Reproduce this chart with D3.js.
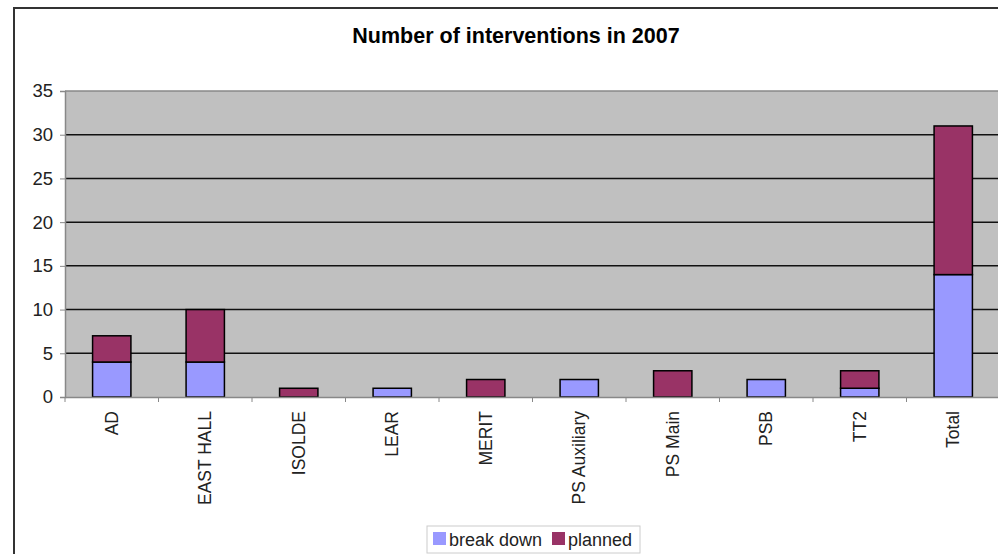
<!DOCTYPE html>
<html>
<head>
<meta charset="utf-8">
<script src="https://cdn.jsdelivr.net/npm/d3@7"></script>
<style>
  body { margin: 0; background: #fff; }
  svg { font-family: "Liberation Sans", Arial, sans-serif; display: block; }
</style>
</head>
<body>
<div id="chart"></div>
<script>
const categories = ["AD", "EAST HALL", "ISOLDE", "LEAR", "MERIT", "PS Auxiliary", "PS Main", "PSB", "TT2", "Total"];
const breakDown = [4, 4, 0, 1, 0, 2, 0, 2, 1, 14];
const planned = [3, 6, 1, 0, 2, 0, 3, 0, 2, 17];
const seriesNames = ["break down", "planned"];
const seriesColors = ["#9999ff", "#993366"];
const yTicks = [0, 5, 10, 15, 20, 25, 30, 35];

const w = 998;
const h = 554;
const margin = { top: 91, right: -2, bottom: 157, left: 65 };

const svg = d3.select("#chart")
  .append("svg")
  .attr("width", w)
  .attr("height", h);

// outer chart border (cut off at right and bottom)
svg.append("path")
  .attr("d", `M14,${h + 5}V8H${w + 5}`)
  .attr("fill", "none")
  .attr("stroke", "#333")
  .attr("stroke-width", 2);

svg.append("text")
  .attr("x", 516)
  .attr("y", 43)
  .attr("text-anchor", "middle")
  .attr("font-size", 21.5)
  .attr("font-weight", "bold")
  .text("Number of interventions in 2007");

const x = d3.scaleBand()
  .domain(categories)
  .range([margin.left, w - margin.right])
  .paddingInner(0.59)
  .paddingOuter(0.295);

const y = d3.scaleLinear()
  .domain([0, 35])
  .range([h - margin.bottom, margin.top]);

svg.append("rect")
  .attr("x", margin.left)
  .attr("y", margin.top)
  .attr("width", w - margin.right - margin.left)
  .attr("height", y(0) - margin.top)
  .attr("fill", "#c0c0c0");

// gridlines
svg.append("g")
  .selectAll("line")
  .data(yTicks.filter(d => d > 0 && d < 35))
  .join("line")
  .attr("x1", margin.left)
  .attr("x2", w)
  .attr("y1", d => y(d))
  .attr("y2", d => y(d))
  .attr("stroke", "#111")
  .attr("stroke-width", 1.5);

svg.append("line")
  .attr("x1", margin.left).attr("x2", w)
  .attr("y1", y(35)).attr("y2", y(35))
  .attr("stroke", "#888").attr("stroke-width", 1.5);

// y axis
const yAxis = svg.append("g")
  .attr("transform", `translate(${margin.left},0)`)
  .call(d3.axisLeft(y).tickValues(yTicks).tickSize(5).tickPadding(7));
yAxis.select(".domain").attr("stroke", "#888").attr("stroke-width", 1.5);
yAxis.selectAll(".tick line").attr("stroke", "#888");
yAxis.selectAll("text").attr("font-size", 18.5).attr("fill", "#222")
  .attr("font-family", "Liberation Sans, Arial, sans-serif");

// stacked bars
const rows = categories.map((c, i) => ({ cat: c, b: breakDown[i], p: planned[i] }));
const stack = d3.stack().keys(["b", "p"])(rows);

svg.append("g")
  .selectAll("g")
  .data(stack)
  .join("g")
  .attr("fill", (d, i) => seriesColors[i])
  .selectAll("rect")
  .data(d => d.filter(s => s[1] - s[0] > 0))
  .join("rect")
  .attr("x", d => x(d.data.cat))
  .attr("width", x.bandwidth())
  .attr("y", d => y(d[1]))
  .attr("height", d => y(d[0]) - y(d[1]))
  .attr("stroke", "#000")
  .attr("stroke-width", 1.5);

// x axis
const xAxis = svg.append("g")
  .attr("transform", `translate(0,${y(0)})`)
  .call(d3.axisBottom(x).tickSize(0).tickPadding(0));
xAxis.select(".domain").attr("stroke", "#888").attr("stroke-width", 1.5);
xAxis.selectAll("text")
  .attr("font-size", 17.5)
  .attr("fill", "#222")
  .attr("font-family", "Liberation Sans, Arial, sans-serif")
  .attr("transform", "rotate(-90)")
  .attr("text-anchor", "end")
  .attr("x", -14)
  .attr("y", 0)
  .attr("dy", "0.35em");

// category separator ticks
const step = x.step();
svg.append("g")
  .selectAll("line")
  .data(d3.range(categories.length + 1))
  .join("line")
  .attr("x1", i => margin.left + i * step)
  .attr("x2", i => margin.left + i * step)
  .attr("y1", y(0))
  .attr("y2", y(0) + 5)
  .attr("stroke", "#888");

// legend
const lg = svg.append("g").attr("transform", "translate(427,526)");
lg.append("rect")
  .attr("width", 213).attr("height", 27)
  .attr("fill", "#fff").attr("stroke", "#ccc");
const items = [{ x: 6, i: 0 }, { x: 125, i: 1 }];
items.forEach(it => {
  lg.append("rect")
    .attr("x", it.x).attr("y", 6)
    .attr("width", 13).attr("height", 13)
    .attr("fill", seriesColors[it.i]);
  lg.append("text")
    .attr("x", it.x + 16).attr("y", 19.5)
    .attr("font-size", 18)
    .attr("fill", "#222")
    .text(seriesNames[it.i]);
});
</script>
</body>
</html>
